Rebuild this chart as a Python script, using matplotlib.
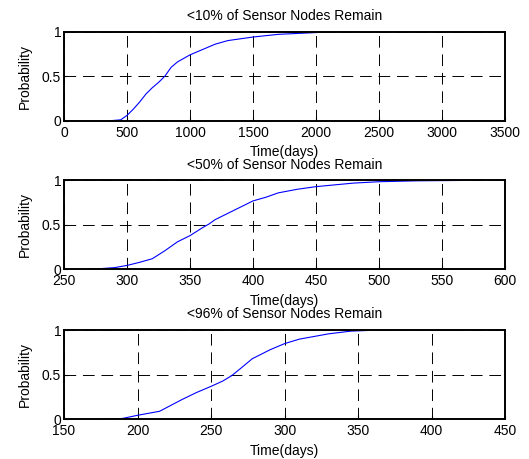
import matplotlib
matplotlib.use("Agg")
import matplotlib.pyplot as plt

plt.rcParams['font.family'] = ['Liberation Sans', 'DejaVu Sans']
plt.rcParams['font.size'] = 10

# <10% remain
t10 = [365, 450, 500, 550, 600, 650, 700, 750, 800, 850, 900, 1000, 1100, 1200, 1300, 1500, 1700, 2000, 2140]
p10 = [0.0, 0.01, 0.06, 0.13, 0.21, 0.30, 0.37, 0.43, 0.50, 0.60, 0.66, 0.74, 0.80, 0.86, 0.90, 0.94, 0.97, 0.99, 1.0]

# <50% remain
t50 = [262, 280, 290, 300, 310, 320, 330, 340, 350, 360, 365, 370, 380, 390, 400, 410, 420, 435, 450, 465, 480, 500, 530, 570]
p50 = [0.0, 0.01, 0.02, 0.045, 0.08, 0.12, 0.21, 0.31, 0.38, 0.47, 0.51, 0.56, 0.63, 0.70, 0.77, 0.81, 0.86, 0.90, 0.93, 0.95, 0.97, 0.985, 0.995, 1.0]

# <96% remain
t96 = [175, 190, 200, 215, 230, 240, 250, 258, 264, 270, 278, 290, 300, 310, 320, 330, 345, 360, 415]
p96 = [0.0, 0.01, 0.045, 0.09, 0.22, 0.30, 0.37, 0.43, 0.49, 0.57, 0.68, 0.78, 0.85, 0.90, 0.93, 0.96, 0.99, 1.0, 1.0]

panels = [
    ("<10% of Sensor Nodes Remain", t10, p10, (0, 3500), range(0, 3501, 500)),
    ("<50% of Sensor Nodes Remain", t50, p50, (250, 600), range(250, 601, 50)),
    ("<96% of Sensor Nodes Remain", t96, p96, (150, 450), range(150, 451, 50)),
]

fig = plt.figure(figsize=(5.29, 4.59), dpi=100)
bottoms = [0.737, 0.413, 0.0865]

for (title, t, p, xlim, xt), b in zip(panels, bottoms):
    ax = fig.add_axes([0.121, b, 0.834, 0.194])
    ax.plot(t, p, color='blue', lw=0.8)
    ax.set_xlim(*xlim)
    ax.set_ylim(0, 1)
    ax.set_xticks(list(xt))
    ax.set_yticks([0, 0.5, 1])
    ax.set_yticklabels(['0', '0.5', '1'])
    ax.grid(True, color='black', linestyle=(0, (12, 7)), lw=0.7)
    ax.tick_params(direction='in', length=3, width=0.8, labelsize=10, pad=2)
    ax.tick_params(axis='x', pad=3.5)
    for s in ax.spines.values():
        s.set_linewidth(1.4)
    ax.set_title(title, fontsize=10, pad=8.5)
    ax.set_xlabel('Time(days)', fontsize=10, labelpad=4)
    ax.set_ylabel('Probability', fontsize=10, labelpad=7)

fig.savefig('out.png', dpi=100)
